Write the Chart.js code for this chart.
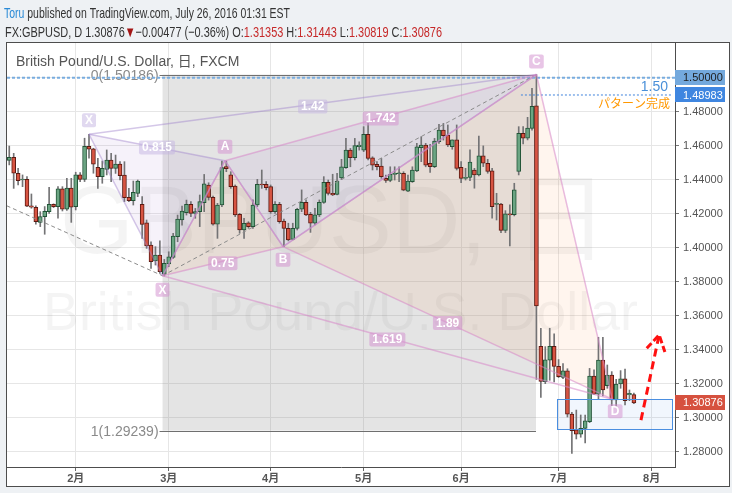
<!DOCTYPE html>
<html>
<head>
<meta charset="utf-8">
<script src="https://cdn.jsdelivr.net/npm/chart.js@4.4.0/dist/chart.umd.min.js"></script>
<style>
  html, body { margin: 0; padding: 0; background: #eef1f4; }
  canvas { display: block; }
</style>
</head>
<body>
<canvas id="chart" width="732" height="493"></canvas>
<script>
// GBPUSD daily, FXCM — bar index 0 = 2016-01-11, one index per trading day

// month ticks on the time axis (bar index of first trading day)
const monthTickIdx = [15, 36, 59, 80, 102, 124, 145];
const monthTickLabels = ['2月', '3月', '4月', '5月', '6月', '7月', '8月'];
const priceTicks = [1.28, 1.30, 1.32, 1.34, 1.36, 1.38, 1.40, 1.42, 1.44, 1.46, 1.48, 1.50];

const opens = [
  1.4514, 1.4532, 1.4438, 1.4398, 1.4402, 1.4246, 1.4238, 1.4149, 1.4183, 1.4212,
  1.4255, 1.4242, 1.4346, 1.4226, 1.4351, 1.4242, 1.4428, 1.4402, 1.4597, 1.4581,
  1.4473, 1.4418, 1.4461, 1.4516, 1.4467, 1.4492, 1.4427, 1.4296, 1.4276, 1.4320,
  1.4255, 1.4147, 1.4016, 1.3922, 1.3957, 1.3845, 1.3904, 1.3943, 1.4065, 1.4163,
  1.4206, 1.4255, 1.4202, 1.4212, 1.4265, 1.4369, 1.4296, 1.4139, 1.4251, 1.4477,
  1.4428, 1.4363, 1.4197, 1.4104, 1.4147, 1.4124, 1.4251, 1.4373, 1.4373, 1.4359,
  1.4212, 1.4255, 1.4157, 1.4114, 1.4049, 1.4114, 1.4226, 1.4267, 1.4197, 1.4144,
  1.4193, 1.4267, 1.4385, 1.4320, 1.4314, 1.4410, 1.4471, 1.4574, 1.4529, 1.4594,
  1.4574, 1.4667, 1.4529, 1.4490, 1.4480, 1.4408, 1.4396, 1.4431, 1.4435, 1.4437,
  1.4333, 1.4388, 1.4451, 1.4588, 1.4604, 1.4496, 1.4476, 1.4623, 1.4692, 1.4663,
  1.4595, 1.4634, 1.4473, 1.4408, 1.4414, 1.4457, 1.4428, 1.4540, 1.4497, 1.4452,
  1.4255, 1.4257, 1.4101, 1.4199, 1.4195, 1.4448, 1.4673, 1.4644, 1.4702, 1.4834,
  1.3420, 1.3212, 1.3338, 1.3420, 1.3302, 1.3237, 1.3276, 1.3021, 1.2928, 1.2903,
  1.2937, 1.2977, 1.3245, 1.3139, 1.3339, 1.3188, 1.3251, 1.3104, 1.3198, 1.3228,
  1.3135, 1.31353
];
const highs = [
  1.4598, 1.4555, 1.4467, 1.4428, 1.4418, 1.4316, 1.4246, 1.4212, 1.4242, 1.4355,
  1.4258, 1.4359, 1.4359, 1.4408, 1.4408, 1.4444, 1.4442, 1.4644, 1.4667, 1.4585,
  1.4526, 1.4510, 1.4575, 1.4555, 1.4545, 1.4506, 1.4506, 1.4349, 1.4392, 1.4398,
  1.4300, 1.4163, 1.4035, 1.4006, 1.4041, 1.3931, 1.3976, 1.4084, 1.4192, 1.4245,
  1.4280, 1.4271, 1.4231, 1.4310, 1.4431, 1.4382, 1.4304, 1.4261, 1.4510, 1.4510,
  1.4447, 1.4369, 1.4202, 1.4173, 1.4153, 1.4281, 1.4402, 1.4457, 1.4389, 1.4369,
  1.4271, 1.4267, 1.4169, 1.4144, 1.4144, 1.4232, 1.4340, 1.4281, 1.4208, 1.4232,
  1.4281, 1.4418, 1.4398, 1.4432, 1.4437, 1.4520, 1.4643, 1.4584, 1.4643, 1.4623,
  1.4712, 1.4731, 1.4535, 1.4506, 1.4525, 1.4427, 1.4476, 1.4476, 1.4476, 1.4447,
  1.4427, 1.4476, 1.4614, 1.4653, 1.4614, 1.4608, 1.4643, 1.4725, 1.4731, 1.4722,
  1.4634, 1.4722, 1.4506, 1.4467, 1.4575, 1.4467, 1.4657, 1.4599, 1.4520, 1.4467,
  1.4320, 1.4261, 1.4218, 1.4252, 1.4379, 1.4712, 1.4712, 1.4767, 1.4938, 1.50186,
  1.3526, 1.3418, 1.3526, 1.3494, 1.3342, 1.3318, 1.3288, 1.3031, 1.3045, 1.3016,
  1.3016, 1.3290, 1.3281, 1.3473, 1.3473, 1.3310, 1.3271, 1.3226, 1.3277, 1.3286,
  1.3163, 1.31443
];
const lows = [
  1.4487, 1.4349, 1.4369, 1.4359, 1.4242, 1.4232, 1.4138, 1.4124, 1.4079, 1.4202,
  1.4236, 1.4173, 1.4216, 1.4220, 1.4149, 1.4222, 1.4389, 1.4389, 1.4526, 1.4438,
  1.4349, 1.4379, 1.4428, 1.4389, 1.4437, 1.4398, 1.4271, 1.4271, 1.4251, 1.4300,
  1.4055, 1.3996, 1.3878, 1.3898, 1.3849, 1.3833, 1.3888, 1.3937, 1.4035, 1.4133,
  1.4192, 1.4182, 1.4173, 1.4124, 1.4212, 1.4280, 1.4133, 1.4055, 1.4241, 1.4447,
  1.4349, 1.4183, 1.4085, 1.4055, 1.4114, 1.4114, 1.4242, 1.4349, 1.4340, 1.4202,
  1.4202, 1.4144, 1.4006, 1.4040, 1.4046, 1.4104, 1.4212, 1.4189, 1.4090, 1.4134,
  1.4183, 1.4261, 1.4310, 1.4306, 1.4310, 1.4400, 1.4467, 1.4476, 1.4516, 1.4574,
  1.4565, 1.4516, 1.4457, 1.4457, 1.4408, 1.4384, 1.4388, 1.4398, 1.4388, 1.4335,
  1.4329, 1.4384, 1.4447, 1.4506, 1.4476, 1.4443, 1.4471, 1.4614, 1.4633, 1.4595,
  1.4579, 1.4457, 1.4383, 1.4398, 1.4395, 1.4350, 1.4422, 1.4477, 1.4438, 1.4173,
  1.4163, 1.4089, 1.4089, 1.4010, 1.4187, 1.4428, 1.4610, 1.4634, 1.4692, 1.3225,
  1.3119, 1.3200, 1.3220, 1.3210, 1.3236, 1.3230, 1.3004, 1.2790, 1.2875, 1.2885,
  1.2851, 1.2971, 1.3137, 1.3110, 1.3128, 1.3173, 1.3071, 1.3065, 1.3173, 1.3075,
  1.3100, 1.30819
];
const closes = [
  1.4532, 1.4438, 1.4395, 1.4403, 1.4244, 1.4238, 1.4153, 1.4183, 1.4214, 1.4255,
  1.4242, 1.4346, 1.4226, 1.4351, 1.4238, 1.4428, 1.4402, 1.4597, 1.4579, 1.4491,
  1.4418, 1.4467, 1.4516, 1.4467, 1.4492, 1.4424, 1.4294, 1.4276, 1.4326, 1.4392,
  1.4137, 1.4010, 1.3918, 1.3957, 1.3859, 1.3908, 1.3947, 1.4069, 1.4169, 1.4216,
  1.4255, 1.4202, 1.4212, 1.4271, 1.4375, 1.4296, 1.4139, 1.4251, 1.4471, 1.4465,
  1.4359, 1.4193, 1.4104, 1.4144, 1.4124, 1.4251, 1.4373, 1.4369, 1.4353, 1.4212,
  1.4255, 1.4153, 1.4114, 1.4046, 1.4114, 1.4226, 1.4267, 1.4193, 1.4144, 1.4193,
  1.4267, 1.4385, 1.4320, 1.4310, 1.4392, 1.4476, 1.4574, 1.4529, 1.4600, 1.4604,
  1.4667, 1.4525, 1.4486, 1.4476, 1.4418, 1.4396, 1.4431, 1.4437, 1.4439, 1.4339,
  1.4392, 1.4457, 1.4594, 1.4604, 1.4486, 1.4476, 1.4627, 1.4692, 1.4659, 1.4604,
  1.4634, 1.4467, 1.4408, 1.4414, 1.4503, 1.4428, 1.4540, 1.4497, 1.4448, 1.4242,
  1.4261, 1.4101, 1.4199, 1.4193, 1.4340, 1.4673, 1.4644, 1.4703, 1.4832, 1.3657,
  1.3214, 1.3340, 1.3420, 1.3302, 1.3241, 1.3276, 1.3021, 1.2923, 1.2903, 1.2937,
  1.2981, 1.3245, 1.3139, 1.3339, 1.3163, 1.3251, 1.3104, 1.3198, 1.3228, 1.3100,
  1.3143, 1.30876
];

// drawings, anchored in (bar index, price)
const fibLevels = [1.50186, 1.29239];
const fibLabels = ['0(1.50186)', '1(1.29239)'];
const fibSpan = [34.6, 118.9];
const firstPattern = [[18, 1.4667], [34.6, 1.3835], [48.7, 1.4512], [61.8, 1.4006], [119, 1.50186]];
const mainPattern = [[34.6, 1.3835], [48.7, 1.4512], [61.8, 1.4006], [119, 1.50186], [136.1, 1.3109]];
const mainLetters = ['X', 'A', 'B', 'C', 'D'];
const trendDashed = [[[-0.6, 1.4247], [34.6, 1.3835]], [[34.6, 1.3835], [119, 1.50186]]];
const targetLevel = 1.48983;
const targetFrom = 115.5;
const roundLevel = 1.50;
const zoneBox = [123.7, 149.7, 1.29335, 1.31082];
const arrowShaft = [[142.6, 1.2986], [146.7, 1.3487]];
const arrowHead = [[143.9, 1.3408], [146.7, 1.3487], [148.0, 1.3387]];
const lastPrice = 1.30876;

const upFill = '#6ba583', upLine = '#225437';
const downFill = '#d75442', downLine = '#5b1a13';
const wickColor = '#737375';

function hasFont(name) {
  const c = document.createElement('canvas').getContext('2d');
  c.font = '20px monospace';
  const a = c.measureText('1.234567 abcdefgh').width;
  c.font = '20px "' + name + '", monospace';
  return c.measureText('1.234567 abcdefgh').width !== a;
}
const narrowOK = hasFont('Liberation Sans Narrow');
const axisFamily = narrowOK ? '"Liberation Sans Narrow"' : '"Liberation Sans"';
const axisSize = narrowOK ? 12 : 11;

function fitText(ctx, segs, x0, x1, baseline, font) {
  ctx.font = font;
  const total = segs.reduce((s, g) => s + ctx.measureText(g[0]).width, 0);
  ctx.save();
  ctx.translate(x0, baseline);
  ctx.scale((x1 - x0) / total, 1);
  ctx.textAlign = 'left';
  ctx.textBaseline = 'alphabetic';
  let x = 0;
  segs.forEach(g => {
    ctx.fillStyle = g[1];
    ctx.fillText(g[0], x, 0);
    x += ctx.measureText(g[0]).width;
  });
  ctx.restore();
}

function pill(ctx, text, cx, cy, bg, fg) {
  ctx.font = 'bold 12px "Liberation Sans", sans-serif';
  const w = ctx.measureText(text).width + 6, h = 14;
  ctx.fillStyle = bg;
  ctx.beginPath();
  ctx.roundRect(cx - w / 2, cy - h / 2, w, h, 2);
  ctx.fill();
  ctx.fillStyle = fg;
  ctx.textAlign = 'center';
  ctx.textBaseline = 'middle';
  ctx.fillText(text, cx, cy + 0.5);
}

function axisBox(ctx, text, cy, bg, fg) {
  ctx.fillStyle = bg;
  ctx.fillRect(675, Math.round(cy - 7.5), 50, 15);
  ctx.fillStyle = fg;
  ctx.font = axisSize + 'px ' + axisFamily;
  ctx.textAlign = 'left';
  ctx.textBaseline = 'middle';
  ctx.fillText(text, 683, cy + 0.5);
}

const tvDraw = {
  id: 'tvDraw',
  beforeDraw(chart) {
    const ctx = chart.ctx;
    ctx.save();
    ctx.fillStyle = '#eef1f4';
    ctx.fillRect(0, 0, 732, 493);
    ctx.fillStyle = '#ffffff';
    ctx.fillRect(7, 43, 722, 443);
    const hf = '15px "Liberation Sans", sans-serif';
    fitText(ctx, [['Toru', '#2a8ad6'], [' published on TradingView.com, July 26, 2016 01:31 EST', '#333']], 4, 290, 18, hf);
    const red = '#c62828', ink = '#333';
    fitText(ctx, [
      ['FX:GBPUSD, D 1.30876', ink], ['▼', '#a31515'], ['−0.00477 (−0.36%) O:', ink], ['1.31353', red],
      [' H:', ink], ['1.31443', red], [' L:', ink], ['1.30819', red], [' C:', ink], ['1.30876', red]
    ], 5, 442, 37, hf);
    ctx.restore();
  },
  beforeDatasetsDraw(chart) {
    const ctx = chart.ctx, a = chart.chartArea;
    const X = chart.scales.x, Y = chart.scales.y;
    const px = v => X.getPixelForValue(v), py = v => Y.getPixelForValue(v);
    ctx.save();
    ctx.beginPath();
    ctx.rect(a.left, a.top, a.right - a.left, a.bottom - a.top);
    ctx.clip();
    // watermark
    const wm = 'rgba(0,0,0,0.045)';
    fitText(ctx, [['GBPUSD, 日', wm]], 60, 608, 253, '97px "Liberation Sans", "Noto Sans CJK JP", sans-serif');
    fitText(ctx, [['British Pound/U.S. Dollar', wm]], 43, 638, 330, '53px "Liberation Sans", sans-serif');
    // fib retracement area
    ctx.fillStyle = 'rgba(120,120,120,0.2)';
    ctx.fillRect(px(fibSpan[0]), py(fibLevels[0]), px(fibSpan[1]) - px(fibSpan[0]), py(fibLevels[1]) - py(fibLevels[0]));
    // pattern triangles
    const tri = (p, i, col) => {
      ctx.fillStyle = col;
      ctx.beginPath();
      ctx.moveTo(px(p[i][0]), py(p[i][1]));
      ctx.lineTo(px(p[i + 1][0]), py(p[i + 1][1]));
      ctx.lineTo(px(p[i + 2][0]), py(p[i + 2][1]));
      ctx.closePath();
      ctx.fill();
    };
    tri(firstPattern, 0, 'rgba(150,110,200,0.09)');
    tri(firstPattern, 2, 'rgba(150,110,200,0.09)');
    tri(mainPattern, 0, 'rgba(255,160,90,0.10)');
    tri(mainPattern, 2, 'rgba(255,160,90,0.10)');
    // zone box
    ctx.fillStyle = 'rgba(60,130,230,0.07)';
    ctx.fillRect(px(zoneBox[0]), py(zoneBox[3]), px(zoneBox[1]) - px(zoneBox[0]), py(zoneBox[2]) - py(zoneBox[3]));
    ctx.restore();
  },
  afterDatasetsDraw(chart) {
    const ctx = chart.ctx, a = chart.chartArea;
    const X = chart.scales.x, Y = chart.scales.y;
    const px = v => X.getPixelForValue(v), py = v => Y.getPixelForValue(v);
    const line = (p, q) => {
      ctx.beginPath();
      ctx.moveTo(px(p[0]), py(p[1]));
      ctx.lineTo(px(q[0]), py(q[1]));
      ctx.stroke();
    };
    ctx.save();
    ctx.beginPath();
    ctx.rect(a.left, a.top, a.right - a.left, a.bottom - a.top);
    ctx.clip();

    // fib level lines and labels
    ctx.strokeStyle = '#6f6f6f';
    ctx.lineWidth = 1;
    fibLevels.forEach((lv, k) => {
      const y = Math.round(py(lv)) + 0.5;
      ctx.beginPath();
      ctx.moveTo(px(fibSpan[0]) - 3, y);
      ctx.lineTo(px(fibSpan[1]), y);
      ctx.stroke();
      ctx.fillStyle = '#8a8a8a';
      ctx.font = '14px "Liberation Sans", sans-serif';
      ctx.textAlign = 'right';
      ctx.textBaseline = 'middle';
      ctx.fillText(fibLabels[k], px(fibSpan[0]) - 4, y + 1);
    });

    // round number line at 1.50
    ctx.strokeStyle = '#79addf';
    ctx.lineWidth = 2;
    ctx.setLineDash([3, 2]);
    line([X.min, roundLevel], [X.max, roundLevel]);
    // target level
    ctx.strokeStyle = '#3f83dc';
    ctx.lineWidth = 1;
    ctx.setLineDash([2, 2]);
    line([targetFrom, targetLevel], [X.max - 0.5, targetLevel]);

    // dashed trend lines
    ctx.strokeStyle = '#8c8c8c';
    ctx.setLineDash([4, 3]);
    trendDashed.forEach(s => line(s[0], s[1]));
    ctx.setLineDash([]);

    // first (faint) pattern
    ctx.strokeStyle = 'rgba(160,130,205,0.45)';
    ctx.lineWidth = 1.5;
    for (let i = 0; i < firstPattern.length - 1; i++) line(firstPattern[i], firstPattern[i + 1]);
    line(firstPattern[0], firstPattern[2]);
    line(firstPattern[0], firstPattern[4]);
    // main pattern
    ctx.strokeStyle = 'rgba(215,135,200,0.55)';
    for (let i = 0; i < mainPattern.length - 1; i++) line(mainPattern[i], mainPattern[i + 1]);
    line(mainPattern[0], mainPattern[2]);
    line(mainPattern[1], mainPattern[3]);
    line(mainPattern[0], mainPattern[4]);
    line(mainPattern[2], mainPattern[4]);

    // zone border
    ctx.strokeStyle = '#4a8ee0';
    ctx.lineWidth = 1;
    ctx.strokeRect(Math.round(px(zoneBox[0])) + 0.5, Math.round(py(zoneBox[3])) + 0.5,
      Math.round(px(zoneBox[1]) - px(zoneBox[0])), Math.round(py(zoneBox[2]) - py(zoneBox[3])));

    // labels of the patterns
    const mid = (p, q) => [(px(p[0]) + px(q[0])) / 2, (py(p[1]) + py(q[1])) / 2];
    const faintBg = 'rgba(195,180,225,0.5)', mainBg = 'rgba(214,150,210,0.55)';
    pill(ctx, 'X', px(firstPattern[0][0]), py(firstPattern[0][1]) - 14, faintBg, '#fff');
    let m = mid(firstPattern[0], firstPattern[2]); pill(ctx, '0.815', m[0], m[1], faintBg, '#fff');
    m = mid(firstPattern[0], firstPattern[4]); pill(ctx, '1.42', m[0], m[1] + 2, faintBg, '#fff');
    const dys = [14, -14, 13, -13, 12];
    mainLetters.forEach((t, i) => pill(ctx, t, px(mainPattern[i][0]) + (i === 4 ? 3 : 0), py(mainPattern[i][1]) + dys[i], mainBg, '#fff'));
    m = mid(mainPattern[0], mainPattern[2]); pill(ctx, '0.75', m[0], m[1] + 2, mainBg, '#fff');
    m = mid(mainPattern[1], mainPattern[3]); pill(ctx, '1.742', m[0], m[1] + 1, mainBg, '#fff');
    m = mid(mainPattern[0], mainPattern[4]); pill(ctx, '1.619', m[0], m[1] + 2, mainBg, '#fff');
    m = mid(mainPattern[2], mainPattern[4]); pill(ctx, '1.89', m[0], m[1], mainBg, '#fff');

    // target texts
    ctx.textAlign = 'right';
    ctx.textBaseline = 'alphabetic';
    ctx.fillStyle = '#4a90d9';
    ctx.font = '14px "Liberation Sans", sans-serif';
    ctx.fillText('1.50', 668, 91);
    ctx.fillStyle = '#ff9800';
    ctx.font = '12px "Noto Sans CJK JP", sans-serif';
    ctx.fillText('パターン完成', 670, 108);

    // red dashed arrow
    ctx.strokeStyle = '#ff1010';
    ctx.lineWidth = 3;
    ctx.setLineDash([8, 5]);
    line(arrowShaft[0], arrowShaft[1]);
    ctx.setLineDash([7, 3]);
    ctx.beginPath();
    ctx.moveTo(px(arrowHead[0][0]), py(arrowHead[0][1]));
    ctx.lineTo(px(arrowHead[1][0]), py(arrowHead[1][1]));
    ctx.lineTo(px(arrowHead[2][0]), py(arrowHead[2][1]));
    ctx.stroke();
    ctx.setLineDash([]);

    // symbol title
    ctx.fillStyle = '#555';
    ctx.font = '14px "Liberation Sans", "Noto Sans CJK JP", sans-serif';
    ctx.textAlign = 'left';
    ctx.textBaseline = 'middle';
    ctx.fillText('British Pound/U.S. Dollar, 日, FXCM', 16, 62);
    ctx.restore();
  },
  afterDraw(chart) {
    const ctx = chart.ctx, Y = chart.scales.y;
    ctx.save();
    const y1 = Y.getPixelForValue(roundLevel);
    axisBox(ctx, roundLevel.toFixed(5), y1, '#74a9dd', '#1d1d1d');
    const y2 = Math.max(Y.getPixelForValue(targetLevel), y1 + 16);
    axisBox(ctx, targetLevel.toFixed(5), y2, '#3f86e0', '#ffffff');
    axisBox(ctx, lastPrice.toFixed(5), Y.getPixelForValue(lastPrice), '#d6513f', '#ffffff');
    ctx.strokeStyle = '#4d4d4d';
    ctx.lineWidth = 1;
    ctx.strokeRect(6.5, 42.5, 723, 444);
    ctx.restore();
  }
};

const barColor = (i, up, down) => closes[i] >= opens[i] ? up : down;

const chart = new Chart(document.getElementById('chart'), {
  type: 'bar',
  data: {
    datasets: [
      {
        label: 'body',
        data: opens.map((o, i) => ({ x: i, y: [o, closes[i]] })),
        backgroundColor: c => barColor(c.dataIndex, upFill, downFill),
        borderColor: c => barColor(c.dataIndex, upLine, downLine),
        borderWidth: 1,
        borderSkipped: false,
        barThickness: 4,
        minBarLength: 1,
        grouped: false,
        order: 1
      },
      {
        label: 'wick',
        data: lows.map((l, i) => ({ x: i, y: [l, highs[i]] })),
        backgroundColor: wickColor,
        borderWidth: 0,
        barThickness: 1,
        grouped: false,
        order: 2
      }
    ]
  },
  options: {
    responsive: false,
    animation: false,
    events: [],
    layout: { padding: { left: 7, top: 43, right: 2, bottom: 6 } },
    plugins: { legend: { display: false }, tooltip: { enabled: false } },
    scales: {
      x: {
        type: 'linear',
        min: -0.51,
        max: 150.28,
        offset: false,
        grid: { offset: false, color: '#e6e6e6', tickLength: 4, tickColor: '#666' },
        border: { color: '#4d4d4d' },
        ticks: {
          autoSkip: false,
          maxRotation: 0,
          padding: 1,
          color: '#555',
          font: { family: '"Liberation Sans", "Noto Sans CJK JP", sans-serif', size: 11, weight: 'bold' },
          callback: v => { const k = monthTickIdx.indexOf(v); return k >= 0 ? monthTickLabels[k] : ''; }
        },
        afterBuildTicks: s => { s.ticks = monthTickIdx.map(v => ({ value: v })); },
        afterFit: s => { s.height = 20; }
      },
      y: {
        position: 'right',
        min: 1.2710,
        max: 1.52041,
        grid: { color: '#e6e6e6', tickLength: 4, tickColor: '#777' },
        border: { color: '#4d4d4d' },
        ticks: {
          padding: 4,
          color: '#555',
          font: { family: axisFamily, size: axisSize },
          callback: v => v.toFixed(5)
        },
        afterBuildTicks: s => { s.ticks = priceTicks.map(v => ({ value: v })); },
        afterFit: s => { s.width = 55; }
      }
    }
  },
  plugins: [tvDraw]
});
</script>
</body>
</html>
